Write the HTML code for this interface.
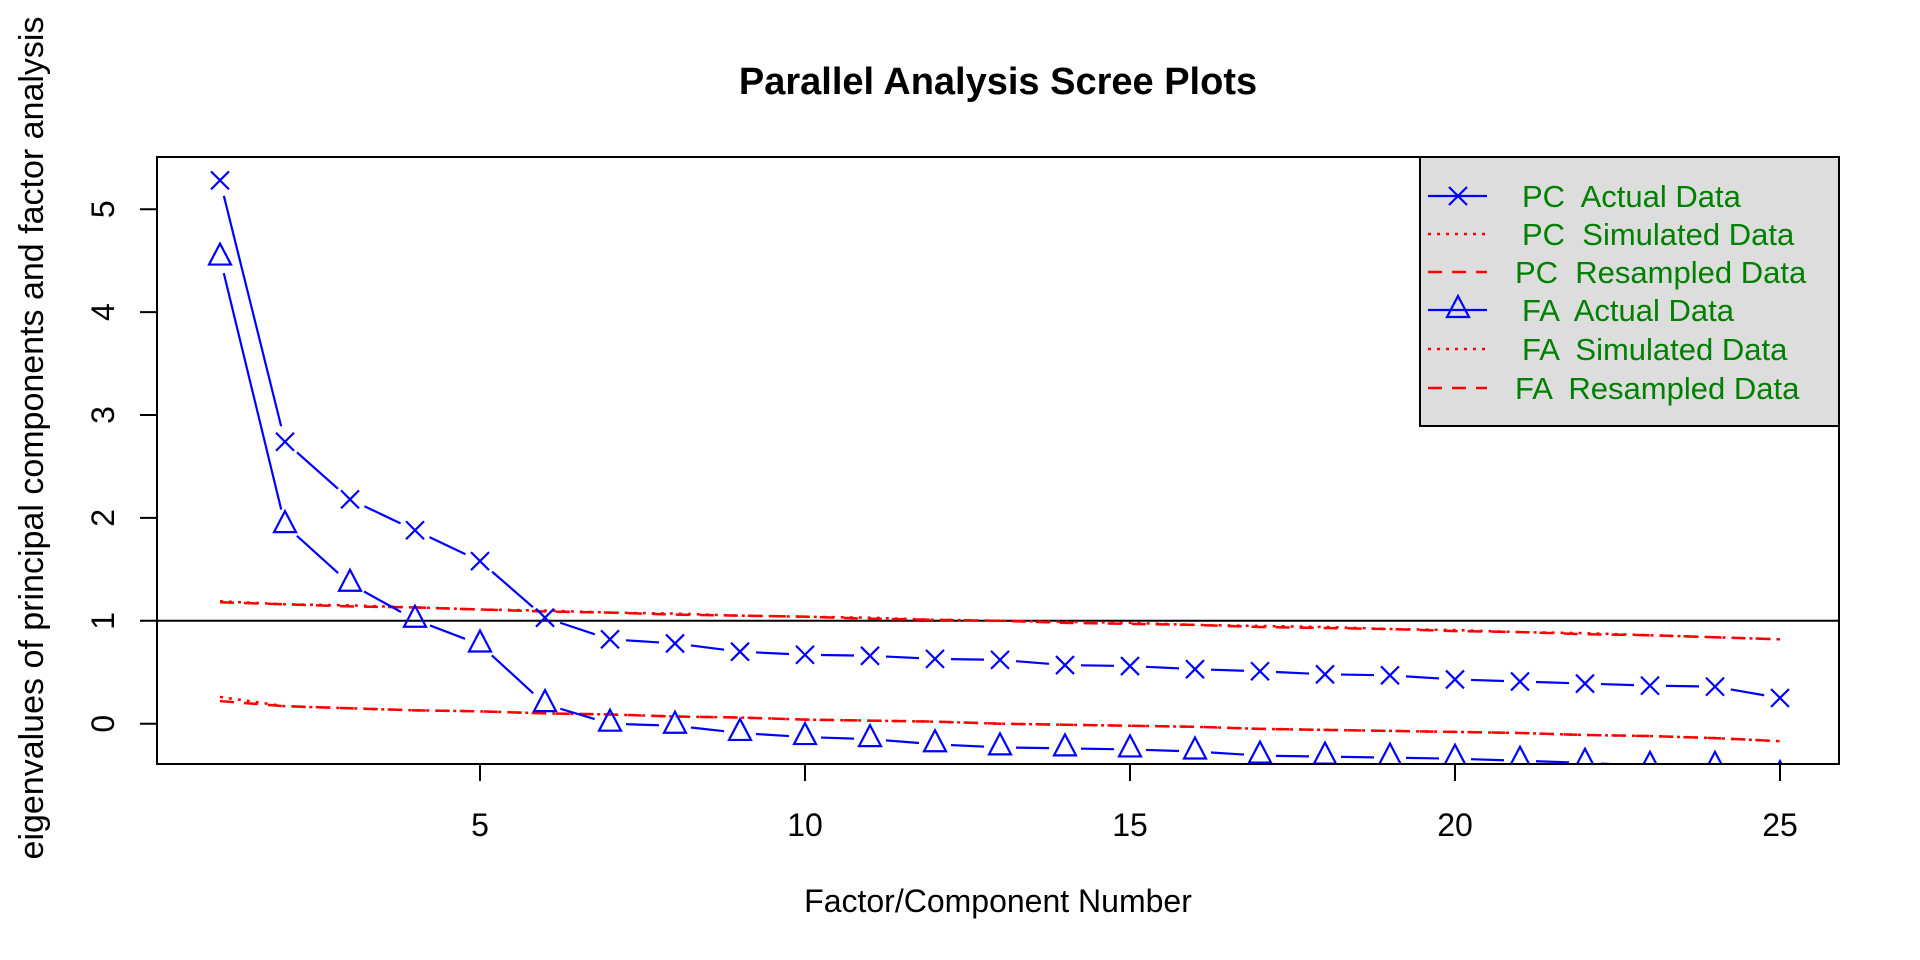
<!DOCTYPE html>
<html><head><meta charset="utf-8"><style>
html,body{margin:0;padding:0;background:#fff;}
svg{display:block;font-family:"Liberation Sans",Arial,sans-serif;}
</style></head><body>
<svg id="chart" width="1920" height="960" viewBox="0 0 1920 960">
<rect width="1920" height="960" fill="#fff"/>
<text x="998" y="94" text-anchor="middle" font-size="38" font-weight="bold">Parallel Analysis Scree Plots</text>
<text x="998" y="912" text-anchor="middle" font-size="32">Factor/Component Number</text>
<text transform="translate(43,438) rotate(-90)" text-anchor="middle" font-size="34">eigenvalues of principal components and factor analysis</text>
<defs><clipPath id="clip"><rect x="157" y="157" width="1682" height="607"/></clipPath></defs>
<g id="xticks"></g>
<g id="yticks"></g>
<g id="series" clip-path="url(#clip)"></g>
<rect x="157" y="157" width="1682" height="607" fill="none" stroke="#000" stroke-width="2"/>
<g id="legend">
<rect x="1420" y="157" width="419" height="269" fill="#dddddd" stroke="#000" stroke-width="2"/>
</g>
</svg>
<script>
const components = [1,2,3,4,5,6,7,8,9,10,11,12,13,14,15,16,17,18,19,20,21,22,23,24,25];
const pcActual = [5.28,2.74,2.18,1.88,1.58,1.03,0.82,0.78,0.70,0.67,0.66,0.63,0.62,0.57,0.56,0.53,0.51,0.48,0.47,0.43,0.41,0.39,0.37,0.36,0.25];
const faActual = [4.53,1.93,1.36,1.01,0.77,0.19,0.00,-0.02,-0.09,-0.13,-0.15,-0.20,-0.23,-0.24,-0.25,-0.27,-0.31,-0.32,-0.33,-0.34,-0.36,-0.38,-0.41,-0.41,-0.50];
const pcSimulated = [1.19,1.16,1.15,1.13,1.11,1.10,1.08,1.07,1.05,1.04,1.03,1.01,1.00,0.99,0.98,0.96,0.95,0.94,0.92,0.91,0.89,0.88,0.86,0.84,0.82];
const pcResampled = [1.18,1.16,1.14,1.13,1.11,1.09,1.08,1.06,1.05,1.04,1.02,1.01,1.00,0.98,0.97,0.96,0.94,0.93,0.92,0.90,0.89,0.87,0.86,0.84,0.82];
const faSimulated = [0.26,0.17,0.15,0.13,0.12,0.10,0.09,0.07,0.06,0.04,0.03,0.02,0.00,-0.01,-0.02,-0.03,-0.05,-0.06,-0.07,-0.08,-0.09,-0.11,-0.12,-0.14,-0.17];
const faResampled = [0.22,0.17,0.15,0.13,0.12,0.10,0.09,0.07,0.06,0.04,0.03,0.02,0.00,-0.01,-0.02,-0.03,-0.05,-0.06,-0.07,-0.08,-0.09,-0.11,-0.12,-0.14,-0.17];
const xTickLabels = [5,10,15,20,25];
const yTickLabels = [0,1,2,3,4,5];
const refLine = 1;

const NS="http://www.w3.org/2000/svg";
const X0=220, XU=65, Y0=723.7, YU=102.9;
function sx(v){return X0+(v-1)*XU;}
function sy(v){return Y0-v*YU;}
function mk(tag,attrs,parent){const e=document.createElementNS(NS,tag);for(const k in attrs)e.setAttribute(k,attrs[k]);parent.appendChild(e);return e;}

const xg=document.getElementById('xticks');
xTickLabels.forEach(t=>{
  const l=mk('line',{x1:sx(t),x2:sx(t),y1:764,y2:781,stroke:'#000','stroke-width':2},xg);
  
  
  const tx=mk('text',{x:sx(t),y:836,'text-anchor':'middle','font-size':32},xg);
  tx.textContent=t;
  
  
});
const yg=document.getElementById('yticks');
yTickLabels.forEach(t=>{
  const l=mk('line',{x1:140,x2:157,y1:sy(t),y2:sy(t),stroke:'#000','stroke-width':2},yg);
  
  
  const tx=mk('text',{transform:`translate(114,${sy(t)}) rotate(-90)`,'text-anchor':'middle','font-size':32},yg);
  tx.textContent=t;
  
  
});

const sg=document.getElementById('series');
const hl=mk('line',{x1:157,x2:1839,y1:sy(refLine),y2:sy(refLine),stroke:'#000','stroke-width':2},sg);



function poly(vals,dash,name){
  const p=mk('polyline',{points:vals.map((v,i)=>sx(components[i])+','+sy(v)).join(' '),fill:'none',stroke:'#ff0000','stroke-width':2.5,'stroke-dasharray':dash},sg);
  
  
}
poly(pcSimulated,'3 6','pc-simulated-line');
poly(faSimulated,'3 6','fa-simulated-line');
poly(pcResampled,'14 10','pc-resampled-line');
poly(faResampled,'14 10','fa-resampled-line');

function cross(g,x,y){mk('path',{d:`M${x-9},${y-9}L${x+9},${y+9}M${x-9},${y+9}L${x+9},${y-9}`,stroke:'#0000ff','stroke-width':2.2,fill:'none'},g);}
function tri(g,x,y){mk('path',{d:`M${x},${y-14}L${x+11},${y+7}L${x-11},${y+7}Z`,stroke:'#0000ff','stroke-width':2.2,fill:'none'},g);}
function actual(vals,sym,name){
  const g=mk('g',{},sg);
  
  
  for(let i=0;i<vals.length-1;i++){
    const x1=sx(components[i]),y1=sy(vals[i]),x2=sx(components[i+1]),y2=sy(vals[i+1]);
    const d=Math.hypot(x2-x1,y2-y1),g0=16;
    if(d>2*g0){const ux=(x2-x1)/d,uy=(y2-y1)/d;
      mk('line',{x1:x1+ux*g0,y1:y1+uy*g0,x2:x2-ux*g0,y2:y2-uy*g0,stroke:'#0000ff','stroke-width':2.2},g);}
  }
  vals.forEach((v,i)=>{
    const m=mk('g',{},g);
    
    
    sym(m,sx(components[i]),sy(v));
  });
}
actual(pcActual,cross,'pc-actual-series');
actual(faActual,tri,'fa-actual-series');

const lg=document.getElementById('legend');
const rows=[['PC  Actual Data','x',1522],['PC  Simulated Data','dot',1522],['PC  Resampled Data','dash',1515],['FA  Actual Data','tri',1522],['FA  Simulated Data','dot',1522],['FA  Resampled Data','dash',1515]];
const rowY=[196,234,272,310,349,388];
rows.forEach((r,i)=>{
  const y=rowY[i];
  const e=mk('g',{},lg);
  
  
  if(r[1]==='x'||r[1]==='tri'){
    mk('line',{x1:1428,x2:1487,y1:y,y2:y,stroke:'#0000ff','stroke-width':2.2},e);
    if(r[1]==='x')cross(e,1458,y);else tri(e,1458,y);
  }else{
    mk('line',{x1:1428,x2:1487,y1:y,y2:y,stroke:'#ff0000','stroke-width':2.5,'stroke-dasharray':r[1]==='dot'?'3 6':'14 10'},e);
  }
  const t=mk('text',{x:r[2],y:y+11,'font-size':31,fill:'#008000'},e);
  t.setAttribute('xml:space','preserve');
  t.style.whiteSpace='pre';
  t.textContent=r[0];
});
</script>
</body></html>
